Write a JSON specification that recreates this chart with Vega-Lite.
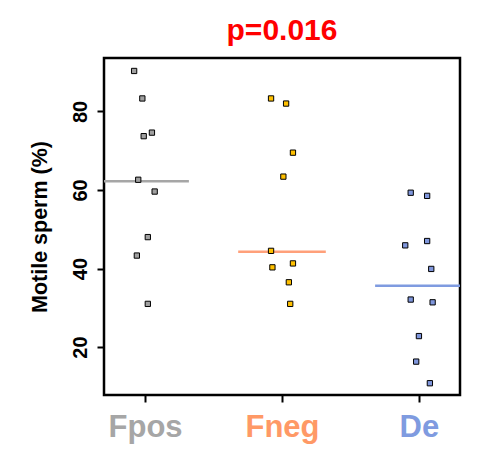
{
  "$schema": "https://vega.github.io/schema/vega-lite/v6.json",
  "width": 356,
  "height": 337,
  "autosize": {"type": "none"},
  "padding": {"left": 104, "top": 58, "right": 29, "bottom": 66},
  "background": "white",
  "title": {
    "text": "p=0.016",
    "color": "#FF0000",
    "fontSize": 30,
    "fontWeight": "bold",
    "font": "Liberation Sans",
    "anchor": "middle",
    "offset": 12
  },
  "config": {
    "font": "Liberation Sans",
    "view": {"stroke": "black", "strokeWidth": 2.5}
  },
  "datasets": {
    "points": [
      {"group": "Fpos", "pos": 0.92, "motile": 90.3},
      {"group": "Fpos", "pos": 0.98, "motile": 83.3},
      {"group": "Fpos", "pos": 0.99, "motile": 73.7},
      {"group": "Fpos", "pos": 1.05, "motile": 74.6},
      {"group": "Fpos", "pos": 0.95, "motile": 62.6},
      {"group": "Fpos", "pos": 1.07, "motile": 59.6},
      {"group": "Fpos", "pos": 1.02, "motile": 48.0},
      {"group": "Fpos", "pos": 0.94, "motile": 43.3},
      {"group": "Fpos", "pos": 1.02, "motile": 31.0},
      {"group": "Fneg", "pos": 1.92, "motile": 83.3},
      {"group": "Fneg", "pos": 2.03, "motile": 82.0},
      {"group": "Fneg", "pos": 2.08, "motile": 69.5},
      {"group": "Fneg", "pos": 2.01, "motile": 63.4},
      {"group": "Fneg", "pos": 1.92, "motile": 44.5},
      {"group": "Fneg", "pos": 1.93, "motile": 40.3},
      {"group": "Fneg", "pos": 2.08, "motile": 41.3},
      {"group": "Fneg", "pos": 2.05, "motile": 36.5},
      {"group": "Fneg", "pos": 2.06, "motile": 31.0},
      {"group": "De", "pos": 2.94, "motile": 59.3},
      {"group": "De", "pos": 3.06, "motile": 58.5},
      {"group": "De", "pos": 3.06, "motile": 47.0},
      {"group": "De", "pos": 2.90, "motile": 45.9},
      {"group": "De", "pos": 3.09, "motile": 39.9},
      {"group": "De", "pos": 2.94, "motile": 32.1},
      {"group": "De", "pos": 3.10, "motile": 31.4},
      {"group": "De", "pos": 3.00, "motile": 22.8},
      {"group": "De", "pos": 2.98, "motile": 16.3},
      {"group": "De", "pos": 3.08, "motile": 10.8}
    ],
    "medians": [
      {"group": "Fpos", "x1": 0.68, "x2": 1.32, "median": 62.2},
      {"group": "Fneg", "x1": 1.68, "x2": 2.32, "median": 44.3},
      {"group": "De", "x1": 2.68, "x2": 3.32, "median": 35.6}
    ]
  },
  "layer": [
    {
      "data": {"name": "medians"},
      "mark": {"type": "rule", "strokeWidth": 2.5, "clip": true},
      "encoding": {
        "x": {
          "field": "x1",
          "type": "quantitative",
          "scale": {"domain": [0.7, 3.3], "nice": false, "zero": false},
          "axis": {
            "values": [1, 2, 3],
            "labelExpr": "datum.value == 1 ? 'Fpos' : datum.value == 2 ? 'Fneg' : 'De'",
            "labelColor": {"expr": "datum.value == 1 ? '#A6A6A6' : datum.value == 2 ? '#FF9966' : '#7F9BE0'"},
            "labelFontSize": 31,
            "labelFontWeight": "bold",
            "labelPadding": 10,
            "tickColor": "black",
            "tickSize": 7,
            "tickWidth": 2,
            "domain": false,
            "grid": false,
            "title": null
          }
        },
        "x2": {"field": "x2"},
        "y": {
          "field": "median",
          "type": "quantitative",
          "scale": {"domain": [7.8, 93.6], "nice": false, "zero": false},
          "axis": {
            "values": [20, 40, 60, 80],
            "labelAngle": 270,
            "labelAlign": "center",
            "labelBaseline": "bottom",
            "labelFontSize": 20,
            "labelFontWeight": "bold",
            "labelColor": "black",
            "labelPadding": 7,
            "tickColor": "black",
            "tickSize": 7,
            "tickWidth": 2,
            "domain": false,
            "grid": false,
            "title": "Motile sperm (%)",
            "titleFontSize": 21.5,
            "titleFontWeight": "bold",
            "titleColor": "black",
            "titlePadding": 19
          }
        },
        "color": {
          "field": "group",
          "type": "nominal",
          "scale": {"domain": ["Fpos", "Fneg", "De"], "range": ["#A6A6A6", "#FFA07A", "#7F9BE0"]},
          "legend": null
        }
      }
    },
    {
      "data": {"name": "points"},
      "mark": {"type": "point", "shape": "square", "filled": true, "stroke": "black", "strokeWidth": 1, "size": 28, "opacity": 1},
      "encoding": {
        "x": {"field": "pos", "type": "quantitative"},
        "y": {"field": "motile", "type": "quantitative"},
        "fill": {
          "field": "group",
          "type": "nominal",
          "scale": {"domain": ["Fpos", "Fneg", "De"], "range": ["#A0A0A0", "#FFC000", "#7F96DC"]},
          "legend": null
        }
      }
    }
  ]
}
